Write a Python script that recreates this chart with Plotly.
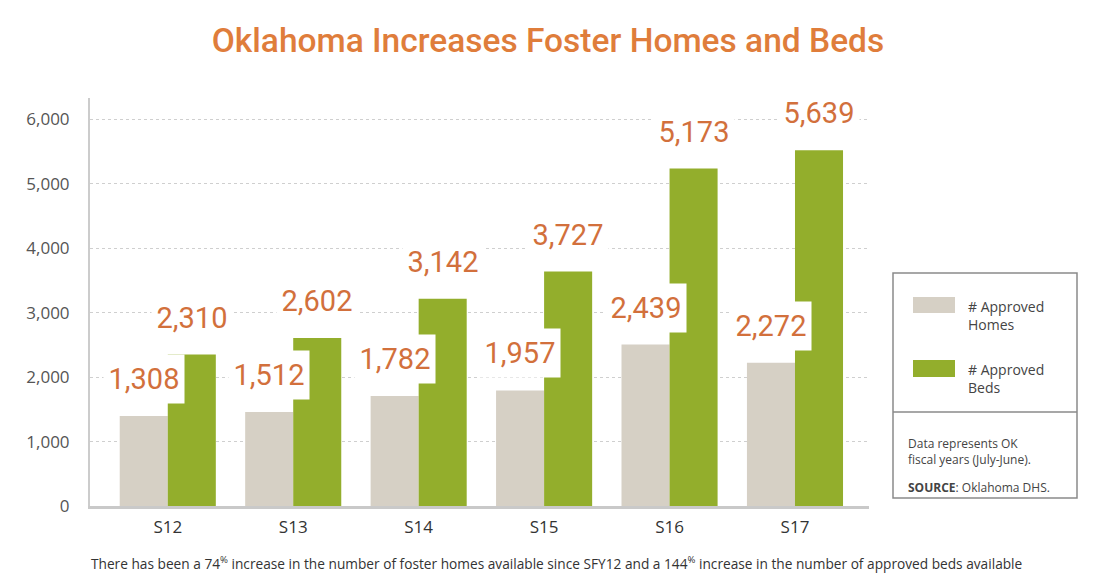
import plotly.graph_objects as go

# ---- data ----
categories = ["S12", "S13", "S14", "S15", "S16", "S17"]
homes_values = [1396, 1458, 1705, 1793, 2504, 2221]      # drawn bar heights
beds_values = [2350, 2607, 3215, 3637, 5235, 5518]       # drawn bar heights
homes_labels = ["1,308", "1,512", "1,782", "1,957", "2,439", "2,272"]
beds_labels = ["2,310", "2,602", "3,142", "3,727", "5,173", "5,639"]
y_ticks = [0, 1000, 2000, 3000, 4000, 5000, 6000]

# ---- style ----
HOMES_COLOR = "#d6d0c5"
BEDS_COLOR = "#93ae2c"
LABEL_COLOR = "#d2703c"
TITLE_COLOR = "#df7d3b"
LABEL_FONT = "Roboto, Noto Sans, sans-serif"
SANS = "Open Sans, Noto Sans, DejaVu Sans, sans-serif"

W_FIG, H_FIG = 1100, 581
L, R_EDGE, T, B = 90, 869, 98, 506
PW, PH = R_EDGE - L, B - T
BARGAP = 0.234


def px(x):
    return (x - L) / PW


def py(y):
    return (B - y) / PH


fig = go.Figure()
fig.add_trace(go.Bar(x=categories, y=homes_values, name="# Approved Homes",
                     marker=dict(color=HOMES_COLOR, line=dict(width=0)),
                     showlegend=False, hoverinfo="skip"))
fig.add_trace(go.Bar(x=categories, y=beds_values, name="# Approved Beds",
                     marker=dict(color=BEDS_COLOR, line=dict(width=0)),
                     showlegend=False, hoverinfo="skip"))

annotations = []
off = (1 - BARGAP) / 4
for i, cat in enumerate(categories):
    for vals, labs, sign in ((homes_values, homes_labels, -1), (beds_values, beds_labels, 1)):
        annotations.append(dict(
            x=i + sign * off, y=vals[i], xref="x", yref="y",
            text=labs[i], showarrow=False, yshift=37,
            xanchor="center", yanchor="middle",
            width=78, height=46, bgcolor="white",
            font=dict(family=LABEL_FONT, size=29, color=LABEL_COLOR),
        ))

# legend / note box content
annotations += [
    dict(x=px(966), y=py(315), xref="paper", yref="paper", xanchor="left", yanchor="middle",
         text="# Approved<br>Homes", align="left", showarrow=False,
         font=dict(family=SANS, size=14, color="#444444")),
    dict(x=px(966), y=py(378), xref="paper", yref="paper", xanchor="left", yanchor="middle",
         text="# Approved<br>Beds", align="left", showarrow=False,
         font=dict(family=SANS, size=14, color="#444444")),
    dict(x=px(906), y=py(451), xref="paper", yref="paper", xanchor="left", yanchor="middle",
         text="Data represents OK<br>fiscal years (July-June).", align="left", showarrow=False,
         font=dict(family=SANS, size=12, color="#444444")),
    dict(x=px(906), y=py(487), xref="paper", yref="paper", xanchor="left", yanchor="middle",
         text="<b>SOURCE</b>: Oklahoma DHS.", align="left", showarrow=False,
         font=dict(family=SANS, size=12, color="#444444")),
    dict(x=px(556), y=py(563), xref="paper", yref="paper", xanchor="center", yanchor="middle",
         text="There has been a 74<sup>%</sup> increase in the number of foster homes available since SFY12 "
              "and a 144<sup>%</sup> increase in the number of approved beds available",
         showarrow=False, font=dict(family=SANS, size=13.7, color="#333333")),
]

shapes = [
    dict(type="rect", xref="paper", yref="paper", x0=px(893), x1=px(1077), y0=py(498), y1=py(273),
         line=dict(color="#8a8a8a", width=1.5), fillcolor="rgba(0,0,0,0)"),
    dict(type="line", xref="paper", yref="paper", x0=px(893), x1=px(1077), y0=py(412), y1=py(412),
         line=dict(color="#8a8a8a", width=1.5)),
    dict(type="rect", xref="paper", yref="paper", x0=px(913), x1=px(955), y0=py(313), y1=py(297),
         line=dict(width=0), fillcolor=HOMES_COLOR),
    dict(type="rect", xref="paper", yref="paper", x0=px(913), x1=px(955), y0=py(377), y1=py(360),
         line=dict(width=0), fillcolor=BEDS_COLOR),
]

fig.update_layout(
    width=W_FIG, height=H_FIG, autosize=False,
    margin=dict(l=L, r=W_FIG - R_EDGE, t=T, b=H_FIG - B, pad=0),
    paper_bgcolor="white", plot_bgcolor="white",
    barmode="group", bargap=BARGAP, bargroupgap=0,
    title=dict(text="Oklahoma Increases Foster Homes and Beds",
               x=548 / W_FIG, xanchor="center", y=1 - 40 / H_FIG, yanchor="middle",
               xref="container", yref="container",
               font=dict(family=LABEL_FONT, size=33.5, color=TITLE_COLOR, weight=500)),
    xaxis=dict(type="category", range=[-0.62, 5.59], showgrid=False, zeroline=False,
               showline=True, linecolor="#c9c9c9", linewidth=3, ticks="",
               tickfont=dict(family=SANS, size=17, color="#333333"), ticklabelstandoff=4),
    yaxis=dict(range=[0, 6330], tickvals=y_ticks, tickformat=",", showgrid=True,
               gridcolor="#cfcfcf", griddash="dot", gridwidth=1, zeroline=False,
               showline=True, linecolor="#cccccc", linewidth=2, ticks="",
               tickfont=dict(family=SANS, size=17, color="#555555"), ticklabelstandoff=15),
    annotations=annotations, shapes=shapes,
)

fig.write_html("out.html", post_script="document.body.style.margin='0';",
               config={"displayModeBar": False})
